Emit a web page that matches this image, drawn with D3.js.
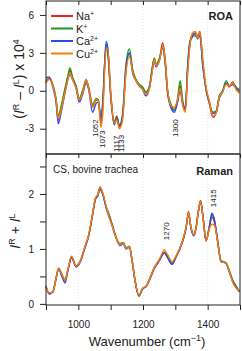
<!DOCTYPE html>
<html lang="en">
<head>
<meta charset="UTF-8">
<title>ROA and Raman spectra</title>
<script src="https://d3js.org/d3.v7.min.js"></script>
<style>
  body, html { margin: 0; padding: 0; background: #fff; overflow: hidden; }
  svg { display: block; font-family: "Liberation Sans", Arial, sans-serif; }
  .tick text { font-size: 10px; fill: #222; }
  .tick line { stroke: #222; }
  .curve { fill: none; stroke-width: 1.4; stroke-linejoin: round; }
  .grid { stroke: #d8d8d8; stroke-dasharray: 1 2; stroke-width: 0.7; }
</style>
</head>
<body>
<svg></svg>
<script>
// ROA panel (I^R - I^L) x 10^4
const wnTop = [900,910,921,931,938,946,957,967,974,982,993,1003,1013,1024,1032,1044,1055,1062,1070,1075,
  1086,1091,1101,1111,1119,1127,1137,1147,1158,1168,1178,1189,1199,1209,1220,1228,1235,1240,1251,1261,
  1268,1276,1287,1297,1307,1315,1323,1331,1338,1345,1354,1362,1369,1376,1385,1395,1405,1416,1426,1436,
  1446,1457,1467,1477,1488,1498];
const roaNa = [0.7,1.0,0.45,-0.75,-2.3,-1.5,-0.2,1.0,1.6,1.0, 0.3,-0.75,-0.1,0.9,0.2,-1.25,-0.75,-0.75,-2.6,-1.5,
  3.6,3.2,-0.75,-2.6,-2.0,-2.85,-2.0,1.6,3.0,1.6, 0.85,0.45,0.2,-0.2,0.3,1.6,2.55,2.0,2.5,3.8,
  2.5,-0.2,-1.25,-1.5,-0.75,0.4,-1.0,-1.5,1.6,3.7, 4.5,4.5,4.3,4.7,2.2,0.05,-1.0,-2.1,-1.75,-0.5,
  -0.1,0.6,0.3,0.7,0.2,-0.1];
const roaK = [0.8,0.9,0.5,-0.6,-2.0,-1.3,0.0,1.1,1.8,1.1, 0.4,-0.6,0.0,0.8,0.3,-1.1,-0.6,-0.7,-2.3,-1.0,
  3.7,3.0,-0.6,-2.4,-2.1,-2.7,-1.8,2.0,3.3,1.7, 0.9,0.5,0.3,-0.1,0.4,1.8,2.6,2.1,2.6,3.4,
  2.3,0.0,-1.1,-1.55,-0.6,0.8,-0.8,-1.4,2.0,3.9, 4.4,4.3,4.4,4.3,1.9,0.1,-0.9,-1.7,-1.6,-0.4,
  0.0,0.8,0.4,0.6,0.3,0.0];
const roaCa = [1.0,1.1,0.3,-0.9,-2.6,-1.8,-0.4,0.8,1.3,0.9, 0.2,-0.9,-0.3,0.6,0.1,-1.7,-1.0,-0.9,-2.2,-1.2,
  3.9,3.4,-0.5,-2.7,-2.2,-2.8,-2.0,1.7,3.0,1.4, 0.8,0.35,0.1,-0.4,0.2,1.5,2.4,1.9,2.4,3.5,
  2.6,0.0,-1.4,-1.7,-0.9,0.0,-1.1,-1.4,1.8,3.8, 4.3,4.6,4.1,4.5,2.0,0.2,-0.9,-1.8,-1.7,-0.6,
  -0.1,0.6,0.4,0.5,0.2,0.1];
const roaCu = [0.6,0.9,0.4,-0.7,-2.2,-1.6,-0.3,0.8,1.4,0.9, 0.2,-0.7,-0.2,0.9,0.2,-1.3,-0.7,-0.8,-2.9,-2.0,
  3.2,3.3,-0.4,-2.6,-2.3,-3.0,-2.3,1.3,2.7,1.5, 0.8,0.4,0.1,-0.3,0.2,1.4,2.5,2.0,2.4,3.5,
  2.7,0.1,-1.2,-1.3,-0.7,0.2,-1.2,-1.7,1.3,3.5, 4.6,4.7,4.2,4.6,2.5,0.3,-0.8,-2.0,-1.8,-0.5,
  -0.1,0.5,0.4,0.6,0.1,-0.2];

// Raman panel I^R + I^L
const wnRam = [900,910,921,931,939,949,959,967,979,993,1008,1019,1032,1042,1053,1060,1067,1075,1086,1094,
  1101,1111,1122,1129,1139,1147,1158,1166,1176,1187,1199,1209,1222,1235,1251,1266,1276,1290,1302,1312,
  1325,1333,1341,1348,1357,1364,1371,1378,1385,1395,1405,1413,1421,1431,1441,1457,1467,1477,1488,1498];
const ramNa = [0.31,0.19,0.22,0.47,0.65,0.53,0.42,0.6,0.86,0.68, 0.8,1.01,1.25,1.56,1.92,1.98,2.12,2.02,1.77,1.62,
  1.5,1.31,1.13,1.07,1.12,1.01,1.04,0.8,0.41,0.15, 0.28,0.31,0.47,0.65,0.8,0.94,0.85,0.72,0.86,0.98,
  1.19,1.38,1.68,1.4,1.25,1.38,1.68,1.88,1.62,1.15, 1.38,1.58,1.48,1.13,0.77,0.74,0.59,0.41,0.3,0.24];
const ramK = [0.31,0.19,0.22,0.46,0.64,0.54,0.44,0.6,0.85,0.69, 0.81,1.0,1.24,1.55,1.9,1.96,2.08,2.0,1.76,1.65,
  1.52,1.32,1.14,1.1,1.12,1.02,1.05,0.81,0.4,0.14, 0.27,0.32,0.48,0.66,0.8,0.93,0.86,0.74,0.86,0.99,
  1.2,1.38,1.64,1.41,1.26,1.39,1.67,1.86,1.61,1.16, 1.4,1.63,1.52,1.15,0.79,0.75,0.61,0.44,0.33,0.23];
const ramCa = [0.32,0.18,0.21,0.45,0.63,0.5,0.38,0.58,0.84,0.67, 0.79,1.0,1.24,1.55,1.91,1.97,2.1,2.01,1.75,1.6,
  1.49,1.3,1.12,1.06,1.1,1.0,1.03,0.79,0.4,0.15, 0.28,0.31,0.46,0.64,0.79,0.93,0.84,0.72,0.85,0.97,
  1.18,1.37,1.65,1.39,1.24,1.37,1.67,1.87,1.61,1.15, 1.4,1.65,1.53,1.14,0.78,0.73,0.58,0.42,0.3,0.22];
const ramCu = [0.33,0.2,0.22,0.47,0.65,0.54,0.43,0.61,0.87,0.69, 0.81,1.02,1.26,1.57,1.93,1.99,2.13,2.03,1.78,1.6,
  1.48,1.31,1.12,1.08,1.12,1.01,1.04,0.79,0.41,0.16, 0.29,0.32,0.48,0.66,0.82,0.98,0.9,0.77,0.87,0.99,
  1.2,1.39,1.66,1.41,1.26,1.38,1.68,1.87,1.6,1.14, 1.36,1.45,1.43,1.12,0.77,0.74,0.59,0.4,0.29,0.24];

const ionNames = ["Na", "K", "Ca", "Cu"];
const ionCharges = ["+", "+", "2+", "2+"];
const ionColors = ["#e8261e", "#1c9a1c", "#2d4cf0", "#ff7b06"];

const xTicks = [900, 1000, 1100, 1200, 1300, 1400, 1500];
const xLabels = [1000, 1200, 1400];
const roaTicks = [-3, 0, 3, 6];
const ramTicks = [0, 0.5, 1, 1.5, 2, 2.5];

const roaMarks = [
  {wn: 1052, label: "1052", at: -3.66},
  {wn: 1073, label: "1073", at: -4.53},
  {wn: 1117, label: "1117", at: -4.85},
  {wn: 1133, label: "1133", at: -4.85},
  {wn: 1300, label: "1300", at: -3.66}
];
const ramMarks = [
  {wn: 1270, label: "1270", at: 1.16},
  {wn: 1415, label: "1415", at: 1.76}
];

const width = 242, height = 351;
const svg = d3.select("svg").attr("width", width).attr("height", height);

const x = d3.scaleLinear().domain([900, 1500]).range([46, 240]);
const yTop = d3.scaleLinear().domain([-5, 7.1]).range([154, 1]);
const yBot = d3.scaleLinear().domain([-0.02, 2.727]).range([305, 154]);

const series = ionNames.map((n, i) => ({
  name: n, charge: ionCharges[i], color: ionColors[i],
  roa: wnTop.map((w, j) => [w, [roaNa, roaK, roaCa, roaCu][i][j]]),
  ram: wnRam.map((w, j) => [w, [ramNa, ramK, ramCa, ramCu][i][j]])
}));

// faint grid
function grid(y) {
  const g = svg.append("g");
  g.selectAll("line").data(xLabels).enter().append("line")
    .attr("class", "grid")
    .attr("x1", d => x(d)).attr("x2", d => x(d))
    .attr("y1", y.range()[1]).attr("y2", y.range()[0]);
}
grid(yTop);
grid(yBot);
svg.append("line").attr("class", "grid")
  .attr("x1", x(900)).attr("x2", x(1500))
  .attr("y1", yTop(0)).attr("y2", yTop(0));

// curves
const lineTop = d3.line().x(d => x(d[0])).y(d => yTop(d[1])).curve(d3.curveMonotoneX);
const lineBot = d3.line().x(d => x(d[0])).y(d => yBot(d[1])).curve(d3.curveMonotoneX);

svg.append("g").selectAll("path").data(series).enter().append("path")
  .attr("class", "curve").attr("stroke", d => d.color).attr("d", d => lineTop(d.roa));
svg.append("g").selectAll("path").data(series).enter().append("path")
  .attr("class", "curve").attr("stroke", d => d.color).attr("d", d => lineBot(d.ram));

// frames
[yTop, yBot].forEach(y => {
  svg.append("rect")
    .attr("x", x(900)).attr("y", y.range()[1])
    .attr("width", x(1500) - x(900)).attr("height", y.range()[0] - y.range()[1])
    .attr("fill", "none").attr("stroke", "#222").attr("stroke-width", 1);
});

// axes
const fmt = d => d < 0 ? "-" + Math.abs(d) : d;
svg.append("g").attr("transform", `translate(${x(900)},0)`)
  .call(d3.axisLeft(yTop).tickValues(roaTicks).tickSize(6).tickPadding(6).tickFormat(fmt))
  .call(g => g.select(".domain").remove());
svg.append("g").attr("transform", `translate(${x(900)},0)`)
  .call(d3.axisLeft(yBot).tickValues(ramTicks).tickSize(6).tickPadding(6)
    .tickFormat(d => Number.isInteger(d) ? d : ""))
  .call(g => g.select(".domain").remove());
svg.append("g").attr("transform", `translate(0,${yBot.range()[0]})`)
  .call(d3.axisBottom(x).tickValues(xTicks).tickSize(5).tickPadding(11)
    .tickFormat(d => xLabels.includes(d) ? d : ""))
  .call(g => g.select(".domain").remove());
[yTop.range()[1], yBot.range()[1]].forEach(yy => {
  svg.append("g").attr("transform", `translate(0,${yy})`)
    .call(d3.axisBottom(x).tickValues(xTicks).tickSize(4).tickFormat(""))
    .call(g => g.select(".domain").remove());
});

// legend
const leg = svg.append("g").attr("font-size", 11);
series.forEach((s, i) => {
  const yy = 16 + i * 12.5;
  leg.append("line").attr("x1", 51).attr("x2", 73).attr("y1", yy).attr("y2", yy)
    .attr("stroke", s.color).attr("stroke-width", 2);
  const t = leg.append("text").attr("x", 76).attr("y", yy + 4).attr("fill", "#222");
  t.append("tspan").text(s.name);
  t.append("tspan").attr("font-size", 7).attr("dy", -4).text(s.charge);
});

// panel labels
svg.append("text").attr("x", 233).attr("y", 19.5).attr("text-anchor", "end")
  .attr("font-size", 11).attr("font-weight", "bold").attr("fill", "#222").text("ROA");
svg.append("text").attr("x", 233).attr("y", 174.5).attr("text-anchor", "end")
  .attr("font-size", 11).attr("font-weight", "bold").attr("fill", "#222").text("Raman");
svg.append("text").attr("x", 53).attr("y", 173).attr("font-size", 10)
  .attr("fill", "#222").text("CS, bovine trachea");

// peak annotations
function marks(data, y) {
  svg.append("g").selectAll("text").data(data).enter().append("text")
    .attr("transform", d => `translate(${x(d.wn) + 3},${y(d.at)}) rotate(-90)`)
    .attr("font-size", 8).attr("fill", "#222").text(d => d.label);
}
marks(roaMarks, yTop);
marks(ramMarks, yBot);

// axis titles
const yl1 = svg.append("text").attr("transform", "translate(24,79) rotate(-90)")
  .attr("text-anchor", "middle").attr("font-size", 14).attr("fill", "#222");
yl1.append("tspan").text("(");
yl1.append("tspan").attr("font-style", "italic").text("I");
yl1.append("tspan").attr("font-size", 9).attr("dy", -5).text("R");
yl1.append("tspan").attr("dy", 5).text(" – ");
yl1.append("tspan").attr("font-style", "italic").text("I");
yl1.append("tspan").attr("font-size", 9).attr("dy", -5).text("L");
yl1.append("tspan").attr("dy", 5).text(") x 10");
yl1.append("tspan").attr("font-size", 9).attr("dy", -5).text("4");

const yl2 = svg.append("text").attr("transform", "translate(20,231) rotate(-90)")
  .attr("text-anchor", "middle").attr("font-size", 14).attr("fill", "#222");
yl2.append("tspan").attr("font-style", "italic").text("I");
yl2.append("tspan").attr("font-size", 9).attr("dy", -5).text("R");
yl2.append("tspan").attr("dy", 5).text(" + ");
yl2.append("tspan").attr("font-style", "italic").text("I");
yl2.append("tspan").attr("font-size", 9).attr("dy", -5).text("L");

const xl = svg.append("text").attr("x", 147).attr("y", 346)
  .attr("text-anchor", "middle").attr("font-size", 13).attr("fill", "#222");
xl.append("tspan").text("Wavenumber (cm");
xl.append("tspan").attr("font-size", 9).attr("dy", -5).text("−1");
xl.append("tspan").attr("dy", 5).text(")");
</script>
</body>
</html>
